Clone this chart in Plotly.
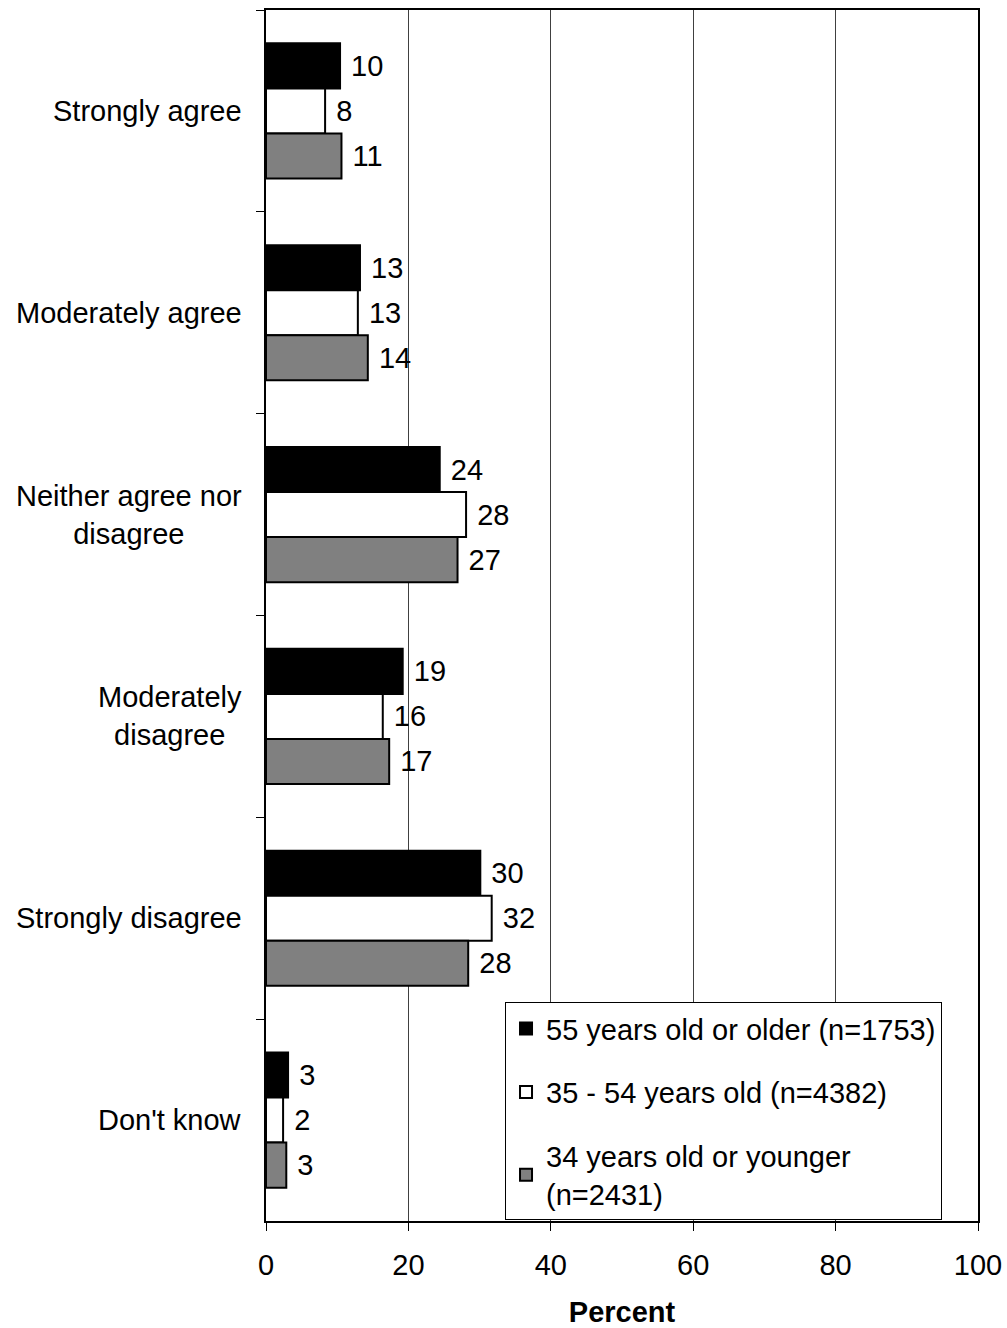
import plotly.graph_objects as go

categories = ["Strongly agree", "Moderately agree", "Neither agree nor<br>disagree",
              "Moderately<br>disagree", "Strongly disagree", "Don't know"]
series_names = ["55 years old or older (n=1753)", "35 - 54 years old (n=4382)",
                "34 years old or younger<br>(n=2431)"]
older = [10.4, 13.2, 24.4, 19.2, 30.1, 3.1]
middle = [8.3, 12.9, 28.1, 16.4, 31.7, 2.4]
younger = [10.6, 14.3, 26.9, 17.3, 28.4, 2.85]
labels_older = [10, 13, 24, 19, 30, 3]
labels_middle = [8, 13, 28, 16, 32, 2]
labels_younger = [11, 14, 27, 17, 28, 3]
x_ticks = [0, 20, 40, 60, 80, 100]

colors = ["#000000", "#FFFFFF", "#808080"]
FONT = "Liberation Sans, Arial, sans-serif"
FS = 29

fig = go.Figure()
for name, vals, labs, col in zip(series_names, [older, middle, younger],
                                 [labels_older, labels_middle, labels_younger], colors):
    fig.add_trace(go.Bar(
        y=categories, x=vals, name=name, orientation="h",
        marker=dict(color=col, line=dict(color="#000000", width=2)),
        text=[" " + str(v) for v in labs], textposition="outside",
        textfont=dict(family=FONT, size=FS, color="#000000"),
        cliponaxis=False, legendgroup=name,
    ))

for c in categories:
    fig.add_annotation(x=0, xref="paper", y=c, yref="y", text=c, showarrow=False,
                       xanchor="right", yanchor="middle", align="center", xshift=-22,
                       font=dict(family=FONT, size=FS, color="#000000"))

fig.update_layout(
    width=1007, height=1328,
    margin=dict(l=266, r=29, t=10, b=107, autoexpand=False),
    paper_bgcolor="white", plot_bgcolor="white",
    barmode="group", bargap=0.33, bargroupgap=0,
    font=dict(family=FONT, size=FS, color="#000000"),
    legend=dict(x=0.3357, y=0.1808, xanchor="left", yanchor="top",
                bgcolor="white", bordercolor="#000000", borderwidth=1,
                font=dict(family=FONT, size=FS, color="#000000"),
                tracegroupgap=23, traceorder="grouped"),
    showlegend=True,
)
fig.update_xaxes(range=[0, 100], tickvals=x_ticks, ticktext=[str(v) for v in x_ticks],
                 showgrid=True, gridcolor="#404040", gridwidth=1,
                 showline=True, linecolor="#000000", linewidth=2, mirror=True,
                 ticks="outside", ticklen=8, tickcolor="#000000", tickwidth=1,
                 ticklabelstandoff=9, zeroline=False,
                 tickfont=dict(family=FONT, size=FS),
                 title=dict(text="<b>Percent</b>", standoff=37,
                            font=dict(family=FONT, size=FS)))
fig.update_yaxes(type="category", autorange="reversed", showticklabels=False,
                 tickson="boundaries", ticks="outside", ticklen=8, tickcolor="#000000",
                 showline=True, linecolor="#000000", linewidth=2, mirror=True,
                 showgrid=False, zeroline=False)

fig.write_html("out.html", config={"displayModeBar": False},
               post_script="document.body.style.margin='0';")
